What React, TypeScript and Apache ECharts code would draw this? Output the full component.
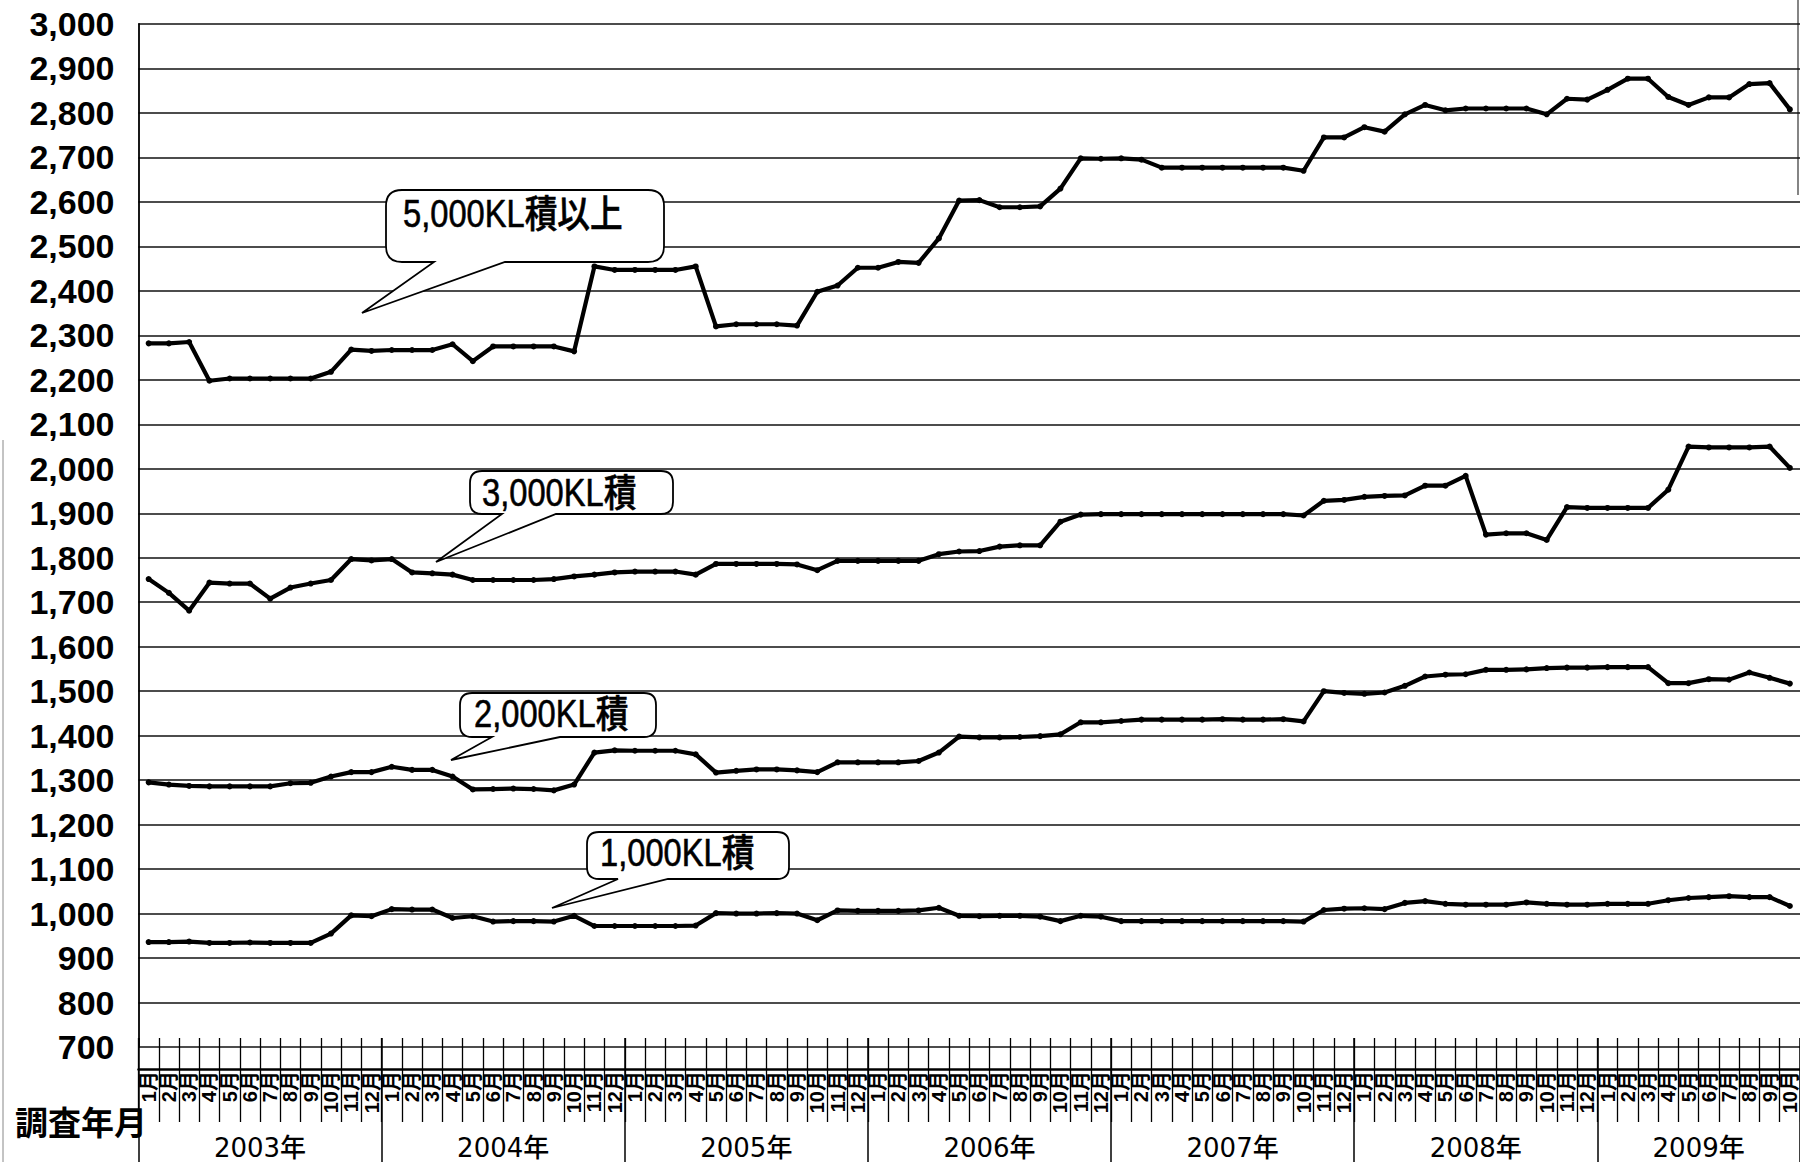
import React, { useEffect, useRef } from 'react';
import * as echarts from 'echarts';

// ---------- data ----------
const years = [2003, 2004, 2005, 2006, 2007, 2008, 2009];
const monthsPerYear = [12, 12, 12, 12, 12, 12, 10];
const yMin = 700;
const yMax = 3000;
const yStep = 100;
const seriesNames = ['5,000KL積以上', '3,000KL積', '2,000KL積', '1,000KL積'];
const axisTitle = '調査年月';

const s5000 = [
  2282, 2282, 2285, 2198, 2203, 2203, 2203, 2203, 2203, 2218, 2268, 2265,
  2267, 2267, 2267, 2280, 2242, 2275, 2275, 2275, 2275, 2264, 2455, 2447,
  2447, 2447, 2447, 2455, 2320, 2325, 2325, 2325, 2322, 2398, 2412, 2452,
  2452, 2465, 2463, 2518, 2603, 2604, 2588, 2588, 2590, 2630, 2698, 2697,
  2698, 2695, 2677, 2677, 2677, 2677, 2677, 2677, 2677, 2670, 2745, 2745,
  2768, 2758, 2797, 2818, 2806, 2810, 2810, 2810, 2810, 2797, 2832, 2830,
  2852, 2877, 2877, 2836, 2818, 2835, 2835, 2865, 2867, 2808,
];
const s3000 = [
  1752, 1721, 1681, 1744, 1742, 1742, 1708, 1733, 1742, 1750, 1797, 1794,
  1797, 1767, 1765, 1762, 1750, 1750, 1750, 1750, 1752, 1758, 1762, 1767,
  1769, 1769, 1769, 1762, 1786, 1786, 1786, 1786, 1785, 1772, 1793, 1793,
  1793, 1793, 1793, 1808, 1814, 1815, 1825, 1828, 1828, 1881, 1897, 1898,
  1898, 1898, 1898, 1898, 1898, 1898, 1898, 1898, 1898, 1895, 1928, 1930,
  1937, 1939, 1940, 1962, 1962, 1984, 1852, 1855, 1855, 1840, 1914, 1912,
  1912, 1912, 1912, 1953, 2050, 2048, 2048, 2048, 2050, 2002,
];
const s2000 = [
  1295, 1290, 1287, 1286, 1286, 1286, 1286, 1293, 1294, 1308, 1318, 1318,
  1330, 1323, 1323, 1308, 1279, 1280, 1281, 1280, 1277, 1290, 1362, 1367,
  1366, 1366, 1366, 1358, 1317, 1321, 1324, 1324, 1322, 1318, 1340, 1340,
  1340, 1340, 1343, 1362, 1398, 1396, 1396, 1397, 1399, 1403, 1430, 1430,
  1433, 1436, 1436, 1436, 1436, 1437, 1436, 1436, 1437, 1432, 1500, 1496,
  1494, 1497, 1512, 1533, 1537, 1538, 1548, 1548, 1549, 1552, 1553, 1553,
  1554, 1554, 1554, 1518, 1518, 1527, 1526, 1542, 1530, 1517,
];
const s1000 = [
  936, 936, 937, 934, 934, 935, 934, 934, 934, 955, 996, 994,
  1010, 1009, 1009, 990, 994, 982, 983, 983, 982, 995, 972, 972,
  972, 972, 972, 973, 1001, 1000, 1000, 1001, 1000, 985, 1007, 1006,
  1006, 1006, 1007, 1013, 995, 994, 995, 995, 993, 983, 995, 993,
  983, 983, 983, 983, 983, 983, 983, 983, 983, 982, 1008, 1011,
  1012, 1010, 1024, 1028, 1022, 1020, 1020, 1020, 1025, 1022, 1020, 1020,
  1022, 1022, 1022, 1030, 1035, 1037, 1039, 1037, 1037, 1017,
];
const seriesValues = [s5000, s3000, s2000, s1000];

// ---------- derived categories ----------
const categories: string[] = [];
const monthLabels: string[] = [];
const yearStartIdx = new Set<number>();
const yearLabelIdx = new Map<number, string>();
years.forEach((y, yi) => {
  const start = categories.length;
  yearStartIdx.add(start);
  yearLabelIdx.set(start + Math.floor(monthsPerYear[yi] / 2), `${y}年`);
  for (let m = 1; m <= monthsPerYear[yi]; m++) {
    categories.push(`${y}年${m}月`);
    monthLabels.push(`${m}月`);
  }
});

// ---------- layout ----------
const W = 1800;
const H = 1162;
const gridLeft = 138.5;
const gridTop = 24;
const gridHeight = 1023;
const gridWidth = 1669.8;
const band = gridWidth / categories.length;
const FONT = "'Liberation Sans', 'Noto Sans CJK JP', sans-serif";
const CJK = "'Noto Sans CJK JP', sans-serif";

// callout decorations (speech bubbles)
const callouts = [
  { name: 'callout5000', text: seriesNames[0], box: [386, 190, 664, 262], rad: 16, wedge: [434, 505], tip: [362, 313], tx: 403, ty: 214 },
  { name: 'callout3000', text: seriesNames[1], box: [470, 471, 673, 514], rad: 12, wedge: [502, 556], tip: [436, 562], tx: 482, ty: 493 },
  { name: 'callout2000', text: seriesNames[2], box: [460, 693, 656, 737], rad: 12, wedge: [492, 560], tip: [451, 760], tx: 474, ty: 714 },
  { name: 'callout1000', text: seriesNames[3], box: [587, 832, 789, 879], rad: 12, wedge: [618, 668], tip: [552, 908], tx: 600, ty: 853 },
];

function calloutPath(c: typeof callouts[number]) {
  const [l, t, r, b] = c.box;
  const rad = c.rad;
  const [w1, w2] = c.wedge;
  const [tx, ty] = c.tip;
  return `M${l + rad} ${t} L${r - rad} ${t} Q${r} ${t} ${r} ${t + rad} L${r} ${b - rad} Q${r} ${b} ${r - rad} ${b} L${w2} ${b} L${tx} ${ty} L${w1} ${b} L${l + rad} ${b} Q${l} ${b} ${l} ${b - rad} L${l} ${t + rad} Q${l} ${t} ${l + rad} ${t} Z`;
}

callouts.forEach((c) => {
  echarts.graphic.registerShape(c.name, echarts.graphic.extendPath(calloutPath(c), {}));
});

export default function App() {
  const ref = useRef<HTMLDivElement>(null);

  useEffect(() => {
    document.body.style.margin = '0';
    if (!ref.current) return;
    const chart = echarts.init(ref.current, undefined, { renderer: 'svg' });

    const graphic: any[] = [];
    callouts.forEach((c) => {
      graphic.push({
        type: c.name,
        x: 0,
        y: 0,
        silent: true,
        z: 5,
        style: { fill: '#fff', stroke: '#000', lineWidth: 1.8 },
      });
      graphic.push({
        type: 'text',
        x: c.tx,
        y: c.ty,
        scaleX: 0.86,
        silent: true,
        z: 6,
        style: {
          text: c.text,
          fontSize: 38,
          fontWeight: 500,
          fontFamily: FONT,
          fill: '#000',
          stroke: '#000',
          lineWidth: 0.6,
          align: 'left',
          verticalAlign: 'middle',
        },
      });
    });
    graphic.push({
      type: 'text',
      x: 15,
      y: 1121,
      silent: true,
      z: 6,
      style: {
        text: axisTitle,
        fontSize: 33,
        fontWeight: 'bold',
        fontFamily: CJK,
        fill: '#000',
        align: 'left',
        verticalAlign: 'middle',
      },
    });
    graphic.push({
      type: 'line',
      silent: true,
      shape: { x1: 3, y1: 440, x2: 3, y2: H },
      style: { stroke: '#888', lineWidth: 1 },
    });
    graphic.push({
      type: 'line',
      silent: true,
      shape: { x1: 1798, y1: 0, x2: 1798, y2: 195 },
      style: { stroke: '#333', lineWidth: 1.2 },
    });

    const option: any = {
      animation: false,
      backgroundColor: '#fff',
      grid: [{ left: gridLeft, top: gridTop, width: gridWidth, height: gridHeight, containLabel: false }],
      xAxis: [
        {
          type: 'category',
          gridIndex: 0,
          position: 'bottom',
          offset: 22,
          data: categories,
          boundaryGap: true,
          axisLine: { show: true, lineStyle: { color: '#000', width: 2.5 } },
          axisTick: { show: false },
          axisLabel: {
            interval: 0,
            rotate: 90,
            margin: 2,
            fontSize: 20,
            fontWeight: 'bold',
            fontFamily: FONT,
            color: '#000',
            formatter: (_v: string, i: number) => monthLabels[i],
          },
          splitLine: { show: false },
        },
        {
          type: 'category',
          gridIndex: 0,
          position: 'bottom',
          offset: -9,
          data: categories,
          boundaryGap: true,
          axisLine: { show: false },
          axisTick: { show: true, interval: 0, length: 84, lineStyle: { color: '#000', width: 1.3 } },
          axisLabel: { show: false },
          splitLine: { show: false },
        },
        {
          type: 'category',
          gridIndex: 0,
          position: 'bottom',
          offset: -9,
          data: categories,
          boundaryGap: true,
          axisLine: { show: false },
          axisTick: {
            show: true,
            interval: (i: number) => yearStartIdx.has(i),
            length: 140,
            lineStyle: { color: '#000', width: 1.5 },
          },
          axisLabel: {
            show: true,
            interval: (i: number) => yearLabelIdx.has(i),
            formatter: (_v: string, i: number) => yearLabelIdx.get(i) || '',
            margin: 97,
            padding: [0, band, 0, 0],
            fontSize: 26,
            fontWeight: 500,
            fontFamily: "'DejaVu Sans', 'Noto Sans CJK JP', sans-serif",
            color: '#000',
          },
          splitLine: { show: false },
        },
      ],
      yAxis: [
        {
          type: 'value',
          gridIndex: 0,
          min: yMin,
          max: yMax,
          interval: yStep,
          axisLine: { show: true, lineStyle: { color: '#000', width: 1.8 } },
          axisTick: { show: false },
          axisLabel: {
            margin: 24,
            fontSize: 34,
            fontWeight: 'bold',
            fontFamily: FONT,
            color: '#000',
            formatter: (v: number) => v.toLocaleString('en-US'),
          },
          splitLine: { show: true, lineStyle: { color: '#111', width: 1.6 } },
        },
      ],
      series: seriesValues.map((vals, k) => ({
        name: seriesNames[k],
        type: 'line',
        xAxisIndex: 0,
        yAxisIndex: 0,
        data: vals,
        symbol: 'circle',
        symbolSize: 6,
        showSymbol: true,
        z: 8,
        silent: true,
        lineStyle: { color: '#000', width: 4.2 },
        itemStyle: { color: '#000' },
      })),
      graphic,
    };

    chart.setOption(option);
    return () => chart.dispose();
  }, []);

  return <div ref={ref} style={{ width: W, height: H, overflow: 'hidden', background: '#fff' }} />;
}
